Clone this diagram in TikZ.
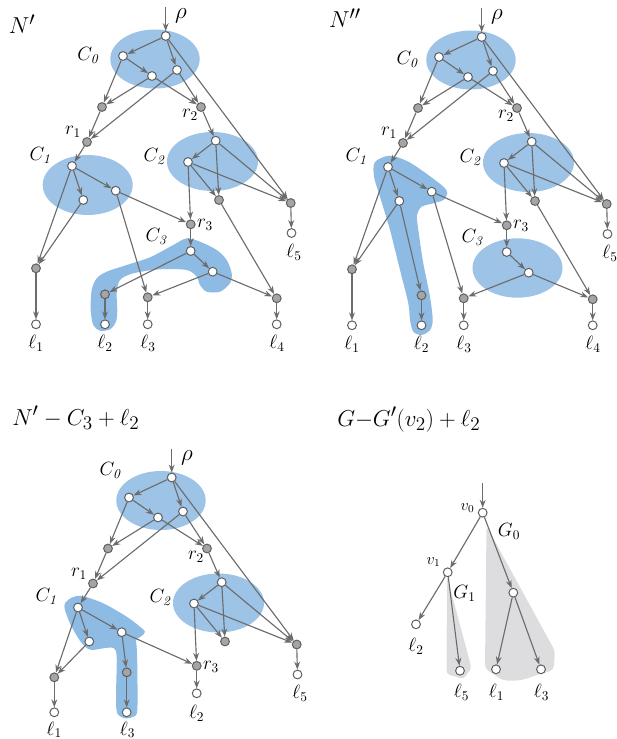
\documentclass[tikz,border=0pt]{standalone}
\usetikzlibrary{arrows.meta}
\definecolor{ellc}{RGB}{157,195,230}
\definecolor{blobc}{RGB}{142,187,228}
\definecolor{edgec}{RGB}{108,108,108}
\definecolor{ndraw}{RGB}{95,95,95}
\definecolor{nfill}{RGB}{165,165,165}
\definecolor{gregion}{RGB}{221,221,223}
\tikzset{
 wn/.style={circle,draw=ndraw,fill=white,line width=0.75pt,minimum size=6.6pt,inner sep=0pt},
 gn/.style={wn,fill=nfill},
 ar/.style={draw=edgec,line width=0.85pt,-{Stealth[length=6pt,width=4.4pt]}},
 lab/.style={inner sep=0pt,font=\fontsize{14}{16}\selectfont},
 smlab/.style={inner sep=0pt,font=\fontsize{12}{14}\selectfont},
 biglab/.style={inner sep=0pt,font=\fontsize{19}{22}\selectfont},
 ell/.style={fill=ellc},
 blob/.style={fill=blobc},
 greg/.style={fill=gregion},
}
\newcommand\netcore{%
 \fill[ell] (155,59) ellipse [x radius=44.7, y radius=29.5];
 \fill[ell] (212.5,161.5) ellipse [x radius=45.5, y radius=29.5];
 \coordinate (top) at (165.7,7);
 \node[wn] (rho) at (165.7,36) {};
 \node[wn] (a) at (123,56) {};
 \node[wn] (b) at (152,76) {};
 \node[wn] (c) at (177,70) {};
 \node[gn] (g) at (102,107) {};
 \node[gn] (r1) at (87,142) {};
 \node[gn] (r2) at (201,107) {};
 \node[wn] (d) at (72,166) {};
 \node[wn] (e) at (83.3,200) {};
 \node[wn] (f) at (115.7,190.7) {};
 \node[wn] (h) at (215.7,140.7) {};
 \node[wn] (i) at (188,162) {};
 \node[gn] (j) at (219,200) {};
 \node[gn] (p5) at (290.7,203) {};
 \node[wn] (l5) at (291.5,233) {};
 \node[gn] (r3) at (190.7,224.3) {};
 \foreach \ea/\eb in {top/rho, rho/a, rho/c, rho/p5, a/b, a/g, b/g, b/r2, c/r2, c/r1, g/r1, r1/d, r2/h, h/i, h/j, h/p5, i/j, i/p5, i/r3, p5/l5, d/e, d/f, f/r3}
   \draw[ar] (\ea) -- (\eb);
 \node[biglab] (Lrho) at (181,16) {$\rho$};
 \node[lab] (Lr1) at (73,132) {$r_1$};
 \node[lab] (Lr2) at (190,115) {$r_2$};
 \node[lab] (Lr3) at (205,225) {$r_3$};
 \node[lab] (LC1) at (41,155) {$C_{\mathit{1}}$};
 \node[lab] (LC2) at (155,156) {$C_{\mathit{2}}$};
 \node[lab] (Ll5) at (294,252) {$\ell_5$};
}
\begin{document}
\begin{tikzpicture}[x=0.75pt,y=-0.75pt]
\useasboundingbox (0,0) rectangle (617,739);
% ---------------- Panel N'
\fill[ell] (87.7,185) ellipse [x radius=45, y radius=30];
\fill[blob] plot[smooth cycle] coordinates {(186.7,238.3) (200,241.7) (216.7,250) (226.7,260) (231.7,273.3) (230,283.3) (220,291.7) (206.7,291.7) (200,285) (196.7,276.7) (186.7,270) (160,269.3) (133.3,273.3) (120,280) (116.7,293.3) (117.3,310) (116,321.7) (110,329.3) (100,330.7) (93.3,325) (90.7,310) (91.7,290) (96.7,278.3) (106.7,271.7) (126.7,265) (150,257.3) (173.3,245)};
\begin{scope}[name prefix=A-]
 \netcore
 \node[wn] (k) at (190.7,251) {};
 \node[wn] (m) at (212.7,271.7) {};
 \node[gn] (p1) at (36,268.3) {};
 \node[wn] (l1) at (36,324.3) {};
 \node[gn] (p2) at (105,294.3) {};
 \node[wn] (l2) at (105,324.3) {};
 \node[gn] (p3) at (147.7,297.3) {};
 \node[wn] (l3) at (147.7,324.3) {};
 \node[gn] (p4) at (276.7,298.3) {};
 \node[wn] (l4) at (276.7,324.3) {};
 \foreach \ea/\eb in {d/p1, e/p1, f/p3, r3/k, k/p2, k/m, m/p3, m/p4, j/p4, p1/l1, p2/l2, p3/l3, p4/l4}
   \draw[ar] (\ea) -- (\eb);
 \node[biglab] (LN) at (22,24) {$N'$};
 \node[lab] (LC0) at (88.7,55) {$C_{\mathit{0}}$};
 \node[lab] (LC3) at (157,236) {$C_{\mathit{3}}$};
 \node[lab] (Ll1) at (36,343) {$\ell_1$};
 \node[lab] (Ll2) at (105,343) {$\ell_2$};
 \node[lab] (Ll3) at (148,343) {$\ell_3$};
 \node[lab] (Ll4) at (277,343) {$\ell_4$};
\end{scope}
% ---------------- Panel N''
\fill[ell] (517.5,268) ellipse [x radius=45, y radius=29.7];
\fill[blob] plot[smooth cycle] coordinates {(375,162) (390,155.7) (408.3,161.7) (428.3,175) (443.3,186.7) (447.3,193) (443.3,200) (433.3,203.3) (421.7,206.7) (417,215) (418.3,230) (423.3,263.3) (430,296.7) (432.7,320) (430,330) (421.7,335) (413.3,331.7) (410,320) (408.3,303.3) (400,270) (390,230) (380,196.7) (374,176.7)};
\begin{scope}[shift={(316,1)},name prefix=B-]
 \netcore
 \node[wn] (k) at (190.7,251) {};
 \node[wn] (m) at (212.7,271.7) {};
 \node[gn] (p1) at (36,268.3) {};
 \node[wn] (l1) at (36,324.3) {};
 \node[gn] (p2) at (105.5,294.3) {};
 \node[wn] (l2) at (105.5,324.3) {};
 \node[gn] (p3) at (147.7,297.3) {};
 \node[wn] (l3) at (147.7,324.3) {};
 \node[gn] (p4) at (276.7,298.3) {};
 \node[wn] (l4) at (276.7,324.3) {};
 \foreach \ea/\eb in {d/p1, e/p1, e/p2, f/p3, r3/k, k/m, m/p3, m/p4, j/p4, p1/l1, p2/l2, p3/l3, p4/l4}
   \draw[ar] (\ea) -- (\eb);
 \node[biglab] (LN) at (29,17) {$N''$};
 \node[lab] (LC0) at (92,58) {$C_{\mathit{0}}$};
 \node[lab] (LC3) at (157,236) {$C_{\mathit{3}}$};
 \node[lab] (Ll1) at (36,343) {$\ell_1$};
 \node[lab] (Ll2) at (105.5,343) {$\ell_2$};
 \node[lab] (Ll3) at (148,343) {$\ell_3$};
 \node[lab] (Ll4) at (277,343) {$\ell_4$};
\end{scope}
% ---------------- Panel N' - C3 + l2
\node[biglab,anchor=base west] (T3) at (12,425) {$N' - C_3 +\ell_2$};
\fill[blob] plot[smooth cycle] coordinates {(65,603.3) (72,597.5) (82,596) (103.3,603.3) (126.7,616.7) (140,626.7) (145,631.7) (141.7,636) (136,640) (136.7,646.7) (137.3,666.7) (137.3,710) (133.3,716.7) (125,718.3) (117.3,713.3) (116,696.7) (116.7,656.7) (113.3,648) (103.3,648.3) (91.7,650) (85,646.7) (78.3,638.3) (70,623.3) (65,610)};
\begin{scope}[shift={(6,441.5)},name prefix=C-]
 \netcore
 \node[gn] (p1) at (48.3,235.8) {};
 \node[wn] (l1) at (48.3,270.8) {};
 \node[gn] (p3) at (120.7,230.8) {};
 \node[wn] (l3) at (120.7,270.8) {};
 \node[wn] (l2) at (190.7,251.8) {};
 \foreach \ea/\eb in {d/p1, e/p1, f/p3, r3/l2, p1/l1, p3/l3}
   \draw[ar] (\ea) -- (\eb);
 \node[lab] (LC0) at (105,28.5) {$C_{\mathit{0}}$};
 \node[lab] (Ll1) at (48.3,288.3) {$\ell_1$};
 \node[lab] (Ll2) at (190.7,271.8) {$\ell_2$};
 \node[lab] (Ll3) at (121.5,288.3) {$\ell_3$};
\end{scope}
% ---------------- Panel G - G'(v2) + l2
\node[biglab,anchor=base west] (T4) at (337,426) {$G{-}G'(v_2) + \ell_2$};
\fill[greg,rounded corners=3pt] (486.5,526) -- (555,651) -- (553.5,670) -- (520,680.5) -- (503,680.5) -- (485,668.5) -- cycle;
\fill[greg,rounded corners=2.5pt] (447,576) -- (471.5,668) -- (463.5,679) -- (446.5,674) -- cycle;
\coordinate (vtop) at (482.7,483);
\node[wn] (v0) at (482.7,512.7) {};
\node[wn] (v1) at (447.7,572.3) {};
\node[wn] (w) at (513.3,592.7) {};
\node[wn] (t2) at (416,624.3) {};
\node[wn] (t5) at (460,670.7) {};
\node[wn] (t1) at (496,669.3) {};
\node[wn] (t3) at (541,669.3) {};
\foreach \ea/\eb in {vtop/v0, v0/v1, v0/w, v1/t2, v1/t5, w/t1, w/t3}
  \draw[ar] (\ea) -- (\eb);
\node[smlab] (Lv0) at (467.5,508) {$v_0$};
\node[lab] (LG0) at (509,531) {$G_0$};
\node[smlab] (Lv1) at (433.5,562) {$v_1$};
\node[lab] (LG1) at (464.5,593.5) {$G_1$};
\node[lab] (Lt2) at (416,646) {$\ell_2$};
\node[lab] (Lt5) at (461.5,692.5) {$\ell_5$};
\node[lab] (Lt1) at (496.5,692) {$\ell_1$};
\node[lab] (Lt3) at (541.5,692) {$\ell_3$};
\end{tikzpicture}
\end{document}
